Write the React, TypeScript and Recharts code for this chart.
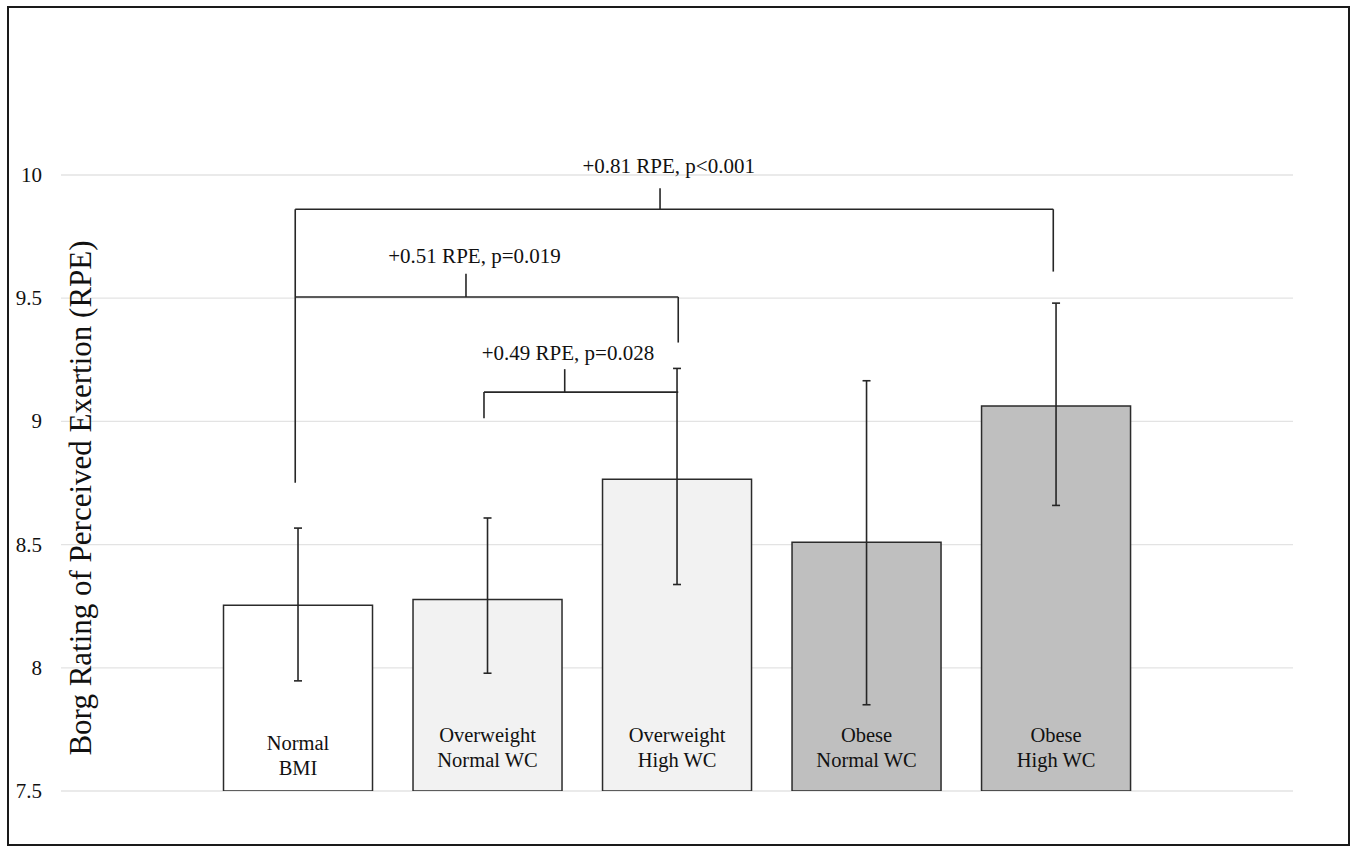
import React from 'react';
import {
  BarChart,
  Bar,
  XAxis,
  YAxis,
  CartesianGrid,
  ErrorBar,
  Cell,
  LabelList,
  ReferenceLine,
  ReferenceDot,
} from 'recharts';

// group names (drawn inside the bars), mean RPE and error bar extents
const categories = [
  'Normal\nBMI',
  'Overweight\nNormal WC',
  'Overweight\nHigh WC',
  'Obese\nNormal WC',
  'Obese\nHigh WC',
];
const meanRpe = [8.254, 8.277, 8.765, 8.51, 9.063];
const errLow = [0.307, 0.299, 0.427, 0.66, 0.404];
const errHigh = [0.313, 0.331, 0.45, 0.655, 0.417];
const yTicks = [7.5, 8, 8.5, 9, 9.5, 10];

// comparison brackets, x in group index units, y in RPE units
const bracketLabels = ['+0.81 RPE, p<0.001', '+0.51 RPE, p=0.019', '+0.49 RPE, p=0.028'];
const bracketSpan = [
  [-0.016, 3.984],
  [-0.016, 2.005],
  [0.98, 2.005],
];
const bracketLevel = [9.861, 9.505, 9.119];
const bracketLegEnds = [
  [8.751, 9.608],
  [9.505, 9.32],
  [9.013, 9.119],
];
const bracketTick = [
  [1.909, 9.946],
  [0.885, 9.599],
  [1.406, 9.212],
];
const bracketText = [
  [1.955, 10.007],
  [0.93, 9.644],
  [1.423, 9.251],
];

const FILLS = ['#ffffff', '#f2f2f2', '#f2f2f2', '#bfbfbf', '#bfbfbf'];
const FONT = '"Liberation Serif", "Times New Roman", serif';
const LINE = '#262626';

const data = categories.map((name, i) => ({
  x: i,
  name,
  rpe: meanRpe[i],
  err: [errLow[i], errHigh[i]],
}));

const BarName = (props: any) => {
  const { x, y, width, height, value, index } = props;
  const lines = String(value).split('\n');
  const bottom = y + height + (index === 0 ? 7.5 : 0);
  const cx = x + width / 2;
  return (
    <text textAnchor="middle" style={{ fontFamily: FONT }} fontSize={20.5} fill="#111">
      <tspan x={cx} y={bottom - 49}>{lines[0]}</tspan>
      <tspan x={cx} y={bottom - 24}>{lines[1]}</tspan>
    </text>
  );
};

const YTick = (props: any) => {
  const { x, y, payload } = props;
  return (
    <text x={x} y={y} textAnchor="end" dominantBaseline="central" style={{ fontFamily: FONT }} fontSize={21} fill="#111">
      {payload.value}
    </text>
  );
};

const seg = (x1: number, y1: number, x2: number, y2: number, key: string) => (
  <ReferenceLine
    key={key}
    segment={[{ x: x1, y: y1 }, { x: x2, y: y2 }]}
    stroke={LINE}
    strokeWidth={1.6}
    ifOverflow="visible"
  />
);

export default function App() {
  const lines: React.ReactNode[] = [];
  bracketLabels.forEach((_, i) => {
    const [a, b] = bracketSpan[i];
    const lvl = bracketLevel[i];
    const [yl, yr] = bracketLegEnds[i];
    lines.push(seg(a, lvl, b, lvl, `h${i}`));
    if (yl < lvl) lines.push(seg(a, yl, a, lvl, `l${i}`));
    if (yr < lvl) lines.push(seg(b, yr, b, lvl, `r${i}`));
    lines.push(seg(bracketTick[i][0], lvl, bracketTick[i][0], bracketTick[i][1], `t${i}`));
  });

  return (
    <div style={{ position: 'absolute', left: 0, top: 0, width: 1353, height: 846, background: '#fff' }}>
      <BarChart
        width={1353}
        height={846}
        data={data}
        margin={{ top: 175, right: 60, bottom: 55, left: 0 }}
      >
        <CartesianGrid horizontal vertical={false} stroke="#e3e3e3" strokeWidth={1.3} />
        <XAxis dataKey="x" type="number" domain={[-1.252, 5.249]} allowDataOverflow hide />
        <YAxis
          type="number"
          domain={[7.5, 10]}
          allowDataOverflow
          ticks={yTicks}
          width={61}
          axisLine={false}
          tickLine={false}
          tickSize={0}
          tickMargin={19}
          tick={<YTick />}
          label={{
            content: (p: any) => {
              const vb = p.viewBox;
              const cx = vb.x + vb.width + 19;
              const cy = vb.y + vb.height - 293;
              return (
                <text
                  x={cx}
                  y={cy}
                  transform={`rotate(-90 ${cx} ${cy})`}
                  textAnchor="middle"
                  dominantBaseline="central"
                  style={{ fontFamily: FONT }}
                  fontSize={31}
                  fill="#111"
                >
                  Borg Rating of Perceived Exertion (RPE)
                </text>
              );
            },
          }}
        />
        <Bar dataKey="rpe" barSize={149} stroke="#2b2b2b" strokeWidth={1.5} isAnimationActive={false}>
          {data.map((d, i) => (
            <Cell key={`c-${i}`} fill={FILLS[i]} />
          ))}
          <ErrorBar dataKey="err" width={4} stroke={LINE} strokeWidth={1.6} isAnimationActive={false} />
          <LabelList dataKey="name" content={BarName} />
        </Bar>
        {lines}
        {bracketLabels.map((txt, i) => (
          <ReferenceDot
            key={`lab-${i}`}
            x={bracketText[i][0]}
            y={bracketText[i][1]}
            r={0}
            fill="none"
            stroke="none"
            ifOverflow="visible"
            label={(p: any) => (
              <text
                x={p.viewBox.x + (p.viewBox.width || 0) / 2}
                y={p.viewBox.y + (p.viewBox.height || 0) / 2}
                textAnchor="middle"
                style={{ fontFamily: FONT }}
                fontSize={21}
                fill="#111"
              >
                {txt}
              </text>
            )}
          />
        ))}
      </BarChart>
      <div
        style={{
          position: 'absolute',
          left: 7,
          top: 6,
          width: 1343,
          height: 840,
          boxSizing: 'border-box',
          border: '2px solid #1a1a1a',
          pointerEvents: 'none',
        }}
      />
    </div>
  );
}
